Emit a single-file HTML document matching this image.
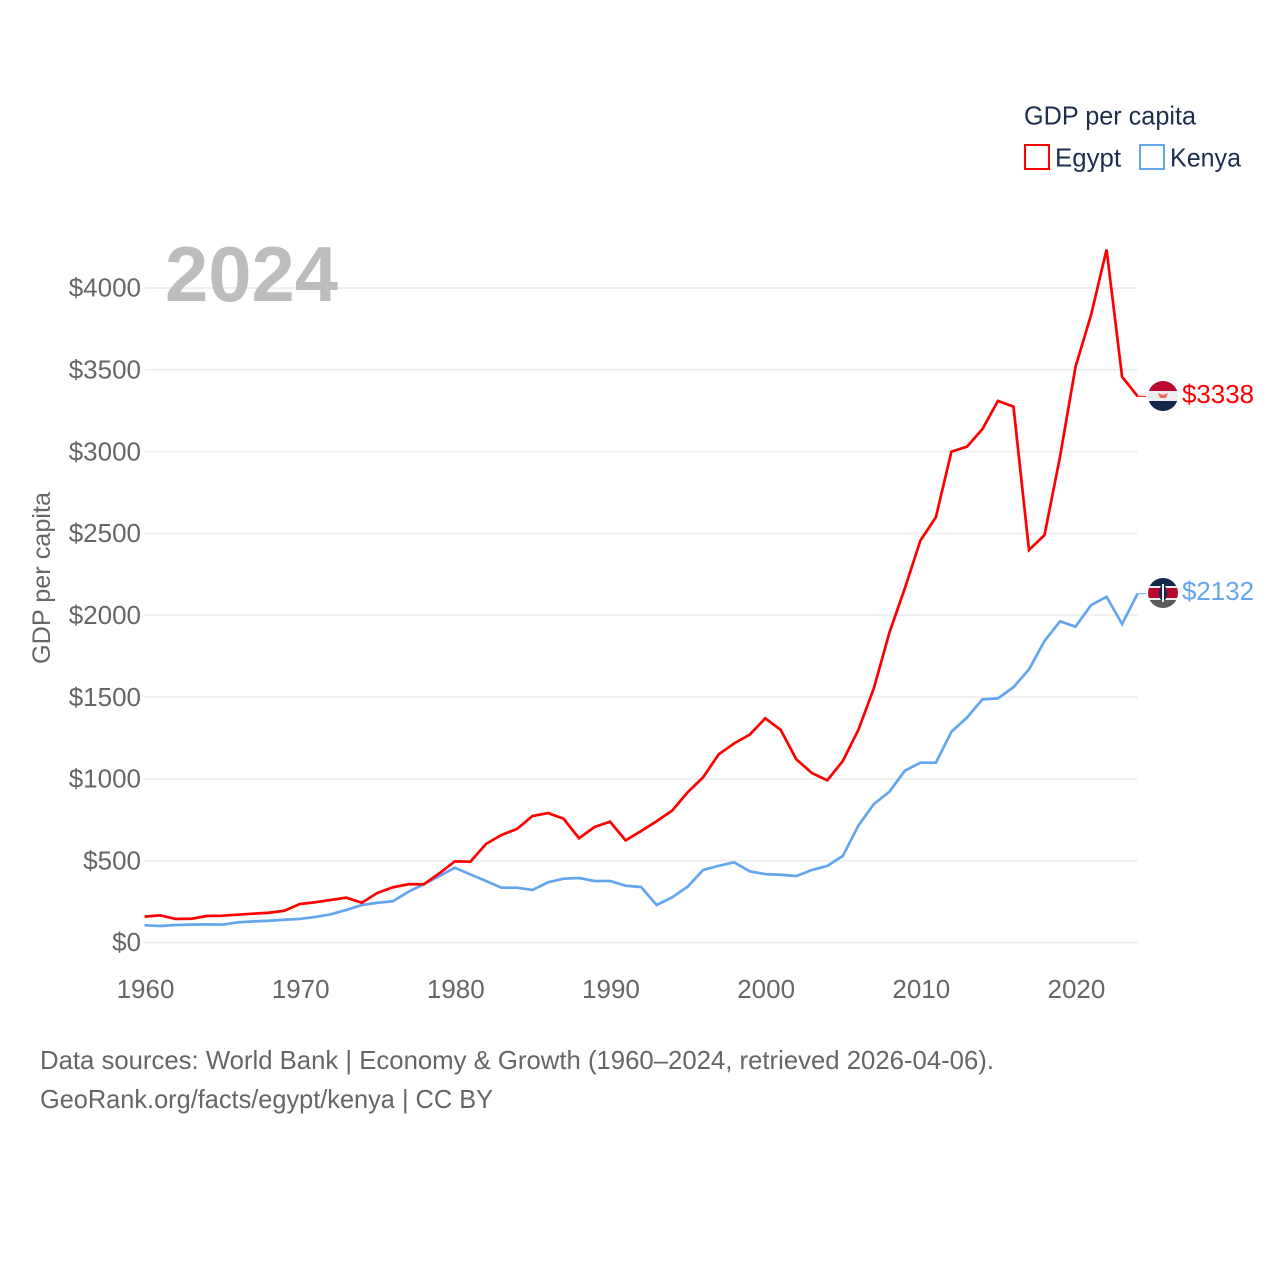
<!DOCTYPE html>
<html lang="en">
<head>
<meta charset="utf-8">
<title>GDP per capita: Egypt and Kenya</title>
<style>
html,body{margin:0;padding:0;background:#fff;}
svg{display:block;font-family:"Liberation Sans",sans-serif;}
</style>
</head>
<body>
<svg id="chart" xmlns="http://www.w3.org/2000/svg" width="1280" height="1280" viewBox="0 0 1280 1280">
  <defs>
    <clipPath id="egypt-clip"><circle cx="1163" cy="396" r="15"/></clipPath>
    <clipPath id="kenya-clip"><circle cx="1163" cy="593" r="15"/></clipPath>
  </defs>
  <rect x="0" y="0" width="1280" height="1280" fill="#ffffff"/>

  <g id="grid"></g>

  <text x="165" y="301" font-size="78" font-weight="700" fill="#bdbdbd" textLength="173" lengthAdjust="spacingAndGlyphs">2024</text>

  <g id="y-ticks"></g>
  <g id="x-ticks"></g>
  <text transform="translate(50,578) rotate(-90)" text-anchor="middle" font-size="25" fill="#666666" textLength="172" lengthAdjust="spacingAndGlyphs">GDP per capita</text>

  <g id="series"></g>

  <g clip-path="url(#egypt-clip)">
    <rect x="1148" y="381" width="30" height="10" fill="#bb0a30"/>
    <rect x="1148" y="391" width="30" height="10" fill="#eeeeee"/>
    <rect x="1148" y="401" width="30" height="10" fill="#14284b"/>
    <path d="M1158 393 L1163 395 L1168 393 L1166 398 L1160 398 Z" fill="#f26a5f"/>
  </g>
  <g clip-path="url(#kenya-clip)">
    <rect x="1148" y="578" width="30" height="10" fill="#14284b"/>
    <rect x="1148" y="586" width="30" height="2" fill="#eeeeee"/>
    <rect x="1148" y="588" width="30" height="10" fill="#bb0a30"/>
    <rect x="1148" y="598" width="30" height="2" fill="#eeeeee"/>
    <rect x="1148" y="600" width="30" height="8" fill="#5b5b5b"/>
    <ellipse cx="1163" cy="593" rx="4" ry="8" fill="#14284b"/>
    <rect x="1162" y="584" width="2" height="18" fill="#eeeeee"/>
  </g>

  <text x="1182" y="403" font-size="26" fill="#ff0000" textLength="72" lengthAdjust="spacingAndGlyphs">$3338</text>
  <text x="1182" y="600" font-size="26" fill="#63a6ef" textLength="72" lengthAdjust="spacingAndGlyphs">$2132</text>

  <g>
    <text x="1024" y="124.5" font-size="26" fill="#1e2f4d" textLength="172" lengthAdjust="spacingAndGlyphs">GDP per capita</text>
    <rect x="1025" y="145" width="24" height="24" fill="none" stroke="#ff0000" stroke-width="2"/>
    <text x="1055" y="166.5" font-size="26" fill="#1e2f4d" textLength="66" lengthAdjust="spacingAndGlyphs">Egypt</text>
    <rect x="1140" y="145" width="24" height="24" fill="none" stroke="#63a6ef" stroke-width="2"/>
    <text x="1170" y="166.5" font-size="26" fill="#1e2f4d" textLength="71" lengthAdjust="spacingAndGlyphs">Kenya</text>
  </g>

  <text x="40" y="1069" font-size="26" fill="#666666" textLength="954" lengthAdjust="spacingAndGlyphs">Data sources: World Bank | Economy &amp; Growth (1960–2024, retrieved 2026-04-06).</text>
  <text x="40" y="1108" font-size="26" fill="#666666" textLength="453" lengthAdjust="spacingAndGlyphs">GeoRank.org/facts/egypt/kenya | CC BY</text>
</svg>

<script>
const startYear = 1960;
const endYear = 2024;
const yTickValues = [0, 500, 1000, 1500, 2000, 2500, 3000, 3500, 4000];
const yTickLabels = ["$0", "$500", "$1000", "$1500", "$2000", "$2500", "$3000", "$3500", "$4000"];
const xTickYears = [1960, 1970, 1980, 1990, 2000, 2010, 2020];
const egyptValues = [158,166,144,145,162,164,170,176,182,194,235,246,260,274,243,303,337,356,356,423,496,494,602,657,694,773,791,757,637,706,738,624,681,741,806,918,1010,1150,1217,1270,1370,1299,1120,1036,991,1109,1299,1553,1893,2165,2456,2600,3000,3030,3138,3310,3275,2399,2490,2969,3519,3835,4235,3458,3338];
const kenyaValues = [105,101,107,109,111,109,123,129,133,139,144,156,172,199,229,243,252,310,356,406,457,416,376,335,335,321,368,390,394,376,376,347,339,229,276,341,443,469,490,435,418,414,406,443,468,529,714,846,921,1050,1099,1099,1288,1374,1486,1492,1560,1669,1843,1963,1930,2062,2113,1946,2132];

const SVG_NS = "http://www.w3.org/2000/svg";

function xScale(year) {
  return 144.6 + (year - startYear) * (1137.6 - 144.6) / (endYear - startYear);
}

function yScale(value) {
  return 942.5 - value * (942.5 - 288) / 4000;
}

function linePoints(values) {
  return values.map(function (value, index) {
    return xScale(startYear + index).toFixed(2) + "," + yScale(value).toFixed(2);
  }).join(" ");
}

const gridGroup = document.getElementById("grid");
const yTickGroup = document.getElementById("y-ticks");
const xTickGroup = document.getElementById("x-ticks");
const seriesGroup = document.getElementById("series");

yTickValues.forEach(function (value, index) {
  const gridLine = document.createElementNS(SVG_NS, "line");
  
  
  gridLine.setAttribute("x1", xScale(startYear));
  gridLine.setAttribute("x2", xScale(endYear));
  gridLine.setAttribute("y1", yScale(value));
  gridLine.setAttribute("y2", yScale(value));
  gridLine.setAttribute("stroke", "#efefef");
  gridLine.setAttribute("stroke-width", "2");
  gridGroup.appendChild(gridLine);

  const tickLabel = document.createElementNS(SVG_NS, "text");
  
  
  tickLabel.setAttribute("x", "141");
  tickLabel.setAttribute("y", yScale(value) + 8.7);
  tickLabel.setAttribute("text-anchor", "end");
  tickLabel.setAttribute("font-size", "26");
  tickLabel.setAttribute("fill", "#666666");
  tickLabel.textContent = yTickLabels[index];
  yTickGroup.appendChild(tickLabel);
});

xTickYears.forEach(function (year) {
  const tickLabel = document.createElementNS(SVG_NS, "text");
  
  
  tickLabel.setAttribute("x", xScale(year) + 0.9);
  tickLabel.setAttribute("y", "998");
  tickLabel.setAttribute("text-anchor", "middle");
  tickLabel.setAttribute("font-size", "26");
  tickLabel.setAttribute("fill", "#666666");
  tickLabel.textContent = String(year);
  xTickGroup.appendChild(tickLabel);
});

const kenyaConnector = document.createElementNS(SVG_NS, "line");


kenyaConnector.setAttribute("x1", xScale(endYear));
kenyaConnector.setAttribute("x2", "1146");
kenyaConnector.setAttribute("y1", yScale(kenyaValues[kenyaValues.length - 1]));
kenyaConnector.setAttribute("y2", yScale(kenyaValues[kenyaValues.length - 1]));
kenyaConnector.setAttribute("stroke", "#63a6ef");
kenyaConnector.setAttribute("stroke-width", "1");
seriesGroup.appendChild(kenyaConnector);

const egyptConnector = document.createElementNS(SVG_NS, "line");


egyptConnector.setAttribute("x1", xScale(endYear));
egyptConnector.setAttribute("x2", "1146");
egyptConnector.setAttribute("y1", yScale(egyptValues[egyptValues.length - 1]));
egyptConnector.setAttribute("y2", yScale(egyptValues[egyptValues.length - 1]));
egyptConnector.setAttribute("stroke", "#ff0000");
egyptConnector.setAttribute("stroke-width", "1");
seriesGroup.appendChild(egyptConnector);

const kenyaLine = document.createElementNS(SVG_NS, "polyline");


kenyaLine.setAttribute("points", linePoints(kenyaValues));
kenyaLine.setAttribute("fill", "none");
kenyaLine.setAttribute("stroke", "#63a6ef");
kenyaLine.setAttribute("stroke-width", "2.7");
kenyaLine.setAttribute("stroke-linejoin", "miter");
seriesGroup.appendChild(kenyaLine);

const egyptLine = document.createElementNS(SVG_NS, "polyline");


egyptLine.setAttribute("points", linePoints(egyptValues));
egyptLine.setAttribute("fill", "none");
egyptLine.setAttribute("stroke", "#ff0000");
egyptLine.setAttribute("stroke-width", "2.7");
egyptLine.setAttribute("stroke-linejoin", "miter");
seriesGroup.appendChild(egyptLine);
</script>
</body>
</html>
